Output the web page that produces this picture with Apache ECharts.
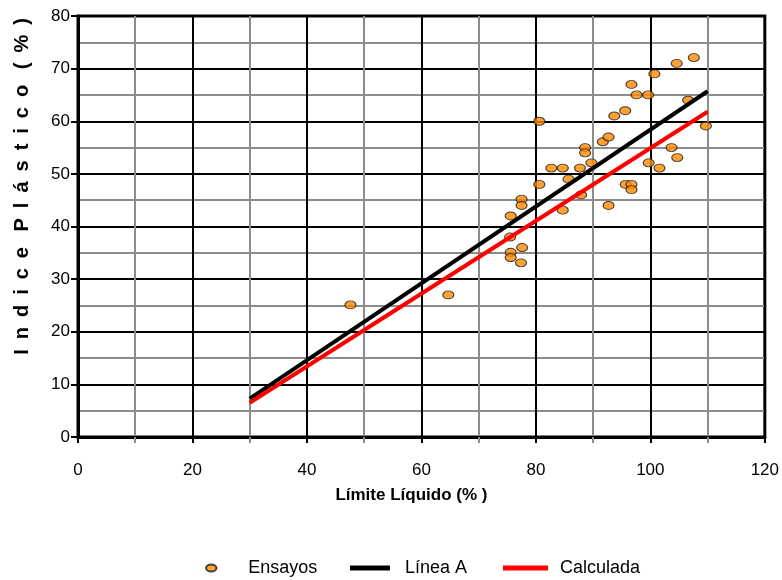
<!DOCTYPE html>
<html>
<head>
<meta charset="utf-8">
<script src="https://cdn.jsdelivr.net/npm/echarts@6/dist/echarts.min.js"></script>
<style>
  html, body { margin: 0; padding: 0; background: #fff; }
  #chart { width: 782px; height: 580px; }
</style>
</head>
<body>
<div id="chart"></div>
<script>
// Ensayos: [límite líquido, índice plástico]
const ensayos = [
  [47.6, 25.1], [64.7, 27.0],
  [75.6, 42.0], [75.5, 38.0], [77.6, 36.0], [75.6, 35.1], [75.6, 34.1], [77.4, 33.1],
  [77.5, 45.2], [77.5, 44.0], [80.6, 48.0], [82.7, 51.1], [84.7, 51.1], [87.7, 51.1],
  [89.7, 52.1], [85.7, 49.0], [84.7, 43.1], [87.9, 46.0], [95.7, 48.0], [96.7, 48.0],
  [96.7, 47.0], [92.7, 44.0], [99.7, 52.1], [101.6, 51.1], [80.6, 60.0], [93.7, 61.0],
  [95.6, 62.0], [91.7, 56.1], [92.7, 57.0], [88.6, 55.0], [88.6, 54.0], [107.6, 72.1],
  [104.6, 71.0], [100.7, 69.0], [96.7, 67.0], [97.6, 65.0], [99.6, 65.0], [106.6, 64.0],
  [109.7, 59.1], [103.7, 55.0], [104.7, 53.1]
];
// Línea A: IP = 0.73 (LL - 20)
const lineaA = [[30, 7.3], [110, 65.7]];
// Recta calculada
const calculada = [[30, 6.5], [110, 61.8]];

const xTicks = [0, 20, 40, 60, 80, 100, 120];
const yTicks = [0, 10, 20, 30, 40, 50, 60, 70, 80];

const FONT = '"Liberation Sans", Arial, sans-serif';
const ellipse = 'path://M0,3a4.5,3 0 1,0 9,0a4.5,3 0 1,0 -9,0z';

// spaced-out axis title
const EN = '\u2002';
const spaced = w => w.split('').join(EN);
const yName = [spaced('Indice'), spaced('Plástico'), spaced('(%)')].join(EN + ' ');

const chart = echarts.init(document.getElementById('chart'));
chart.setOption({
  animation: false,
  backgroundColor: '#fff',
  grid: {
    left: 78, right: 16, top: 16, bottom: 143,
    show: true, borderColor: '#000', borderWidth: 3, backgroundColor: 'transparent'
  },
  xAxis: {
    type: 'value', min: 0, max: 120, interval: 20,
    name: 'Límite Líquido (% )', nameLocation: 'middle', nameGap: 50,
    nameTextStyle: { fontFamily: FONT, fontSize: 17, fontWeight: 'bold', color: '#000', padding: [0, 20, 0, 0] },
    axisLine: { show: true, lineStyle: { color: '#000', width: 3 } },
    axisTick: { show: true, length: 6, lineStyle: { color: '#000', width: 2 } },
    minorTick: { show: true, splitNumber: 2, length: 6, lineStyle: { color: '#8c8c8c', width: 2 } },
    axisLabel: {
      margin: 25, fontFamily: FONT, fontSize: 17, color: '#000',
      formatter: v => xTicks.includes(v) ? String(v) : ''
    },
    splitLine: { show: true, lineStyle: { color: '#000', width: 2 } },
    minorSplitLine: { show: true, lineStyle: { color: '#8c8c8c', width: 2 } }
  },
  yAxis: {
    type: 'value', min: 0, max: 80, interval: 10,
    name: yName, nameLocation: 'middle', nameGap: 46, nameRotate: 90,
    nameTextStyle: { fontFamily: FONT, fontSize: 20, fontWeight: 'bold', color: '#000', padding: [0, 0, 0, 80] },
    axisLine: { show: true, lineStyle: { color: '#000', width: 3 } },
    axisTick: { show: true, length: 7, lineStyle: { color: '#000', width: 2 } },
    minorTick: { show: false, splitNumber: 2 },
    axisLabel: {
      margin: 8, fontFamily: FONT, fontSize: 17, color: '#000',
      formatter: v => yTicks.includes(v) ? String(v) : ''
    },
    splitLine: { show: true, lineStyle: { color: '#000', width: 2 } },
    minorSplitLine: { show: true, lineStyle: { color: '#8c8c8c', width: 2 } }
  },
  legend: [
    {
      data: [{ name: 'Ensayos', icon: ellipse }],
      left: 200, top: 554, itemWidth: 64, itemHeight: 7,
      textStyle: { fontFamily: FONT, fontSize: 18, color: '#000' }
    },
    {
      data: [{ name: 'Línea A', icon: 'rect' }],
      left: 345, top: 554, itemWidth: 40, itemHeight: 5,
      textStyle: { fontFamily: FONT, fontSize: 18, color: '#000', padding: [0, 0, 0, 10] }
    },
    {
      data: [{ name: 'Calculada', icon: 'rect' }],
      left: 498, top: 554, itemWidth: 45, itemHeight: 5,
      textStyle: { fontFamily: FONT, fontSize: 18, color: '#000', padding: [0, 0, 0, 7] }
    }
  ],
  series: [
    {
      name: 'Ensayos', type: 'scatter', data: ensayos,
      symbol: ellipse, symbolSize: [11, 8], symbolKeepAspect: false,
      itemStyle: { color: '#ff8a00', borderColor: '#1a1a1a', borderWidth: 1 },
      z: 2
    },
    {
      name: 'Línea A', type: 'line', data: lineaA, symbol: 'none',
      lineStyle: { color: '#000', width: 4 }, itemStyle: { color: '#000' }, z: 3
    },
    {
      name: 'Calculada', type: 'line', data: calculada, symbol: 'none',
      lineStyle: { color: '#ff0000', width: 4 }, itemStyle: { color: '#ff0000' }, z: 4
    }
  ]
});
</script>
</body>
</html>
